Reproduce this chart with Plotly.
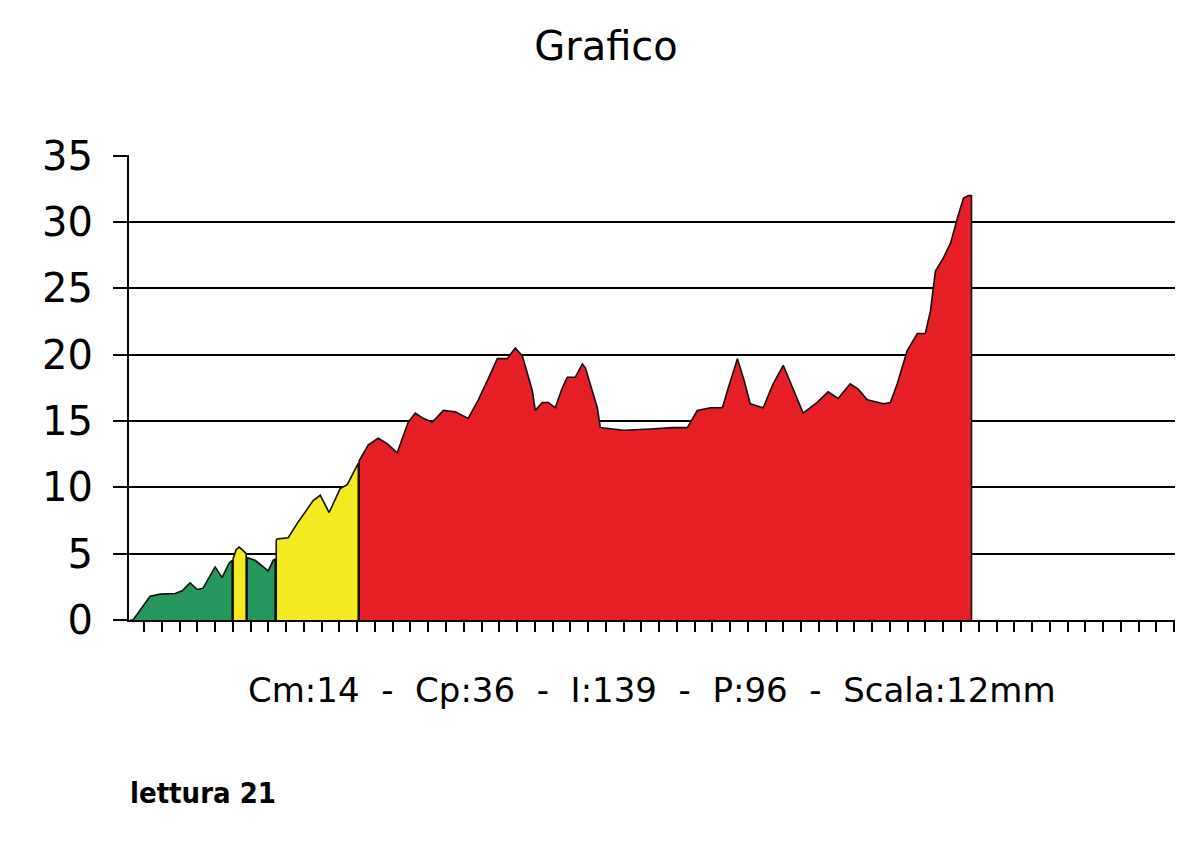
import plotly.graph_objects as go

# Profile readings, split into colour bands (position along the reading, value)
green1_x = [0.21, 0.38, 1.34, 1.90, 2.75, 3.14, 3.59, 3.99, 4.32, 5.00, 5.39, 5.79, 5.96, 5.96]
green1_y = [0.0, 0.0, 1.8, 1.95, 2.0, 2.2, 2.8, 2.3, 2.4, 4.0, 3.2, 4.3, 4.5, 0.0]

yellow1_x = [6.01, 6.01, 6.18, 6.35, 6.52, 6.75, 6.75]
yellow1_y = [0.0, 4.6, 5.3, 5.5, 5.3, 5.0, 0.0]

green2_x = [6.80, 6.80, 7.25, 7.65, 7.99, 8.27, 8.38, 8.38]
green2_y = [0.0, 4.7, 4.5, 4.1, 3.7, 4.5, 4.6, 0.0]

yellow2_x = [8.44, 8.44, 8.49, 9.11, 9.68, 10.18, 10.52, 10.92, 11.42, 12.04, 12.44, 12.94, 13.06, 13.06]
yellow2_y = [0.0, 6.0, 6.1, 6.2, 7.4, 8.4, 9.0, 9.4, 8.1, 9.9, 10.2, 11.5, 11.8, 0.0]

red_x = [13.11, 13.11, 13.63, 14.18, 14.69, 15.25, 15.87, 16.27, 16.72, 17.23, 17.85,
         18.52, 19.25, 19.82, 20.38, 20.89, 21.45, 21.90, 22.30, 22.86, 23.03, 23.42,
         23.76, 24.15, 24.55, 24.83, 25.28, 25.68, 25.85, 26.13, 26.52, 26.69, 27.99,
         29.51, 30.75, 31.59, 32.15, 32.89, 33.56, 33.90, 34.41, 34.80, 35.13, 35.86,
         36.42, 36.99, 37.55, 38.11, 38.90, 39.52, 40.08, 40.76, 41.21, 41.72, 42.63,
         43.02, 43.41, 43.97, 44.54, 44.99, 45.28, 45.56, 46.01, 46.41, 46.80, 47.14,
         47.42, 47.59, 47.59]
red_y = [0.0, 12.0, 13.2, 13.7, 13.3, 12.6, 14.9, 15.6, 15.2, 14.9, 15.8,
         15.7, 15.2, 16.6, 18.2, 19.7, 19.7, 20.5, 19.9, 17.3, 15.8, 16.4,
         16.4, 16.0, 17.5, 18.3, 18.3, 19.3, 19.0, 17.8, 16.0, 14.5, 14.3,
         14.4, 14.5, 14.5, 15.8, 16.0, 16.0, 17.5, 19.7, 18.0, 16.3, 16.0,
         17.8, 19.2, 17.4, 15.6, 16.4, 17.2, 16.7, 17.8, 17.4, 16.6, 16.3,
         16.4, 17.8, 20.3, 21.6, 21.6, 23.3, 26.3, 27.3, 28.4, 30.3, 31.8,
         32.0, 32.0, 0.0]

y_ticks = [0, 5, 10, 15, 20, 25, 30, 35]
x_ticks = list(range(1, 60))

title_text = "Grafico"
x_label = "Cm:14\u00a0\u00a0-\u00a0\u00a0Cp:36\u00a0\u00a0-\u00a0\u00a0I:139\u00a0\u00a0-\u00a0\u00a0P:96\u00a0\u00a0-\u00a0\u00a0Scala:12mm"
note_text = "lettura 21"

GREEN = "#25975C"
YELLOW = "#F4EA22"
RED = "#E61E26"
FONT = "DejaVu Sans, Arial, sans-serif"

fig = go.Figure()
for xs, ys, col in [(green1_x, green1_y, GREEN), (yellow1_x, yellow1_y, YELLOW),
                    (green2_x, green2_y, GREEN), (yellow2_x, yellow2_y, YELLOW),
                    (red_x, red_y, RED)]:
    fig.add_trace(go.Scatter(x=xs, y=ys, mode="lines", fill="tozeroy",
                             fillcolor=col, line=dict(color="#111111", width=1.6),
                             hoverinfo="skip", showlegend=False))

fig.update_layout(
    width=1200, height=867,
    margin=dict(l=121, r=33, t=147, b=255),
    paper_bgcolor="white", plot_bgcolor="white",
    font=dict(family=FONT, color="black"),
    title=dict(text=title_text, x=(606 - 8) / 1200, xanchor="center", y=1 - 38 / 867, yanchor="middle",
               font=dict(size=40, family=FONT, color="black")),
    showlegend=False,
)
fig.update_xaxes(range=[0.15, 59.05], showgrid=False, zeroline=False,
                 showline=True, linecolor="black", linewidth=2,
                 tickmode="array", tickvals=x_ticks, ticks="outside", ticklen=10,
                 tickwidth=2, tickcolor="black", showticklabels=False)
fig.update_yaxes(range=[0, 35.05], showgrid=True, gridcolor="black", gridwidth=2,
                 zeroline=False, showline=True, linecolor="black", linewidth=2,
                 tickmode="array", tickvals=y_ticks, ticks="outside", ticklen=14,
                 tickwidth=2, tickcolor="black", ticklabelstandoff=12,
                 tickfont=dict(size=40, family=FONT, color="black"))

fig.add_annotation(text=x_label, xref="paper", yref="paper", x=0.50, y=-70 / 465,
                   xanchor="center", yanchor="middle", showarrow=False,
                   font=dict(size=34, family=FONT, color="black"))
fig.add_annotation(text="<b>" + note_text + "</b>", xref="paper", yref="paper",
                   x=-1 / 1046, y=-173 / 465, xanchor="left", yanchor="middle",
                   showarrow=False,
                   font=dict(size=29, family="DejaVu Sans Condensed, DejaVu Sans, sans-serif",
                             color="black"))

fig.write_html("out.html")
